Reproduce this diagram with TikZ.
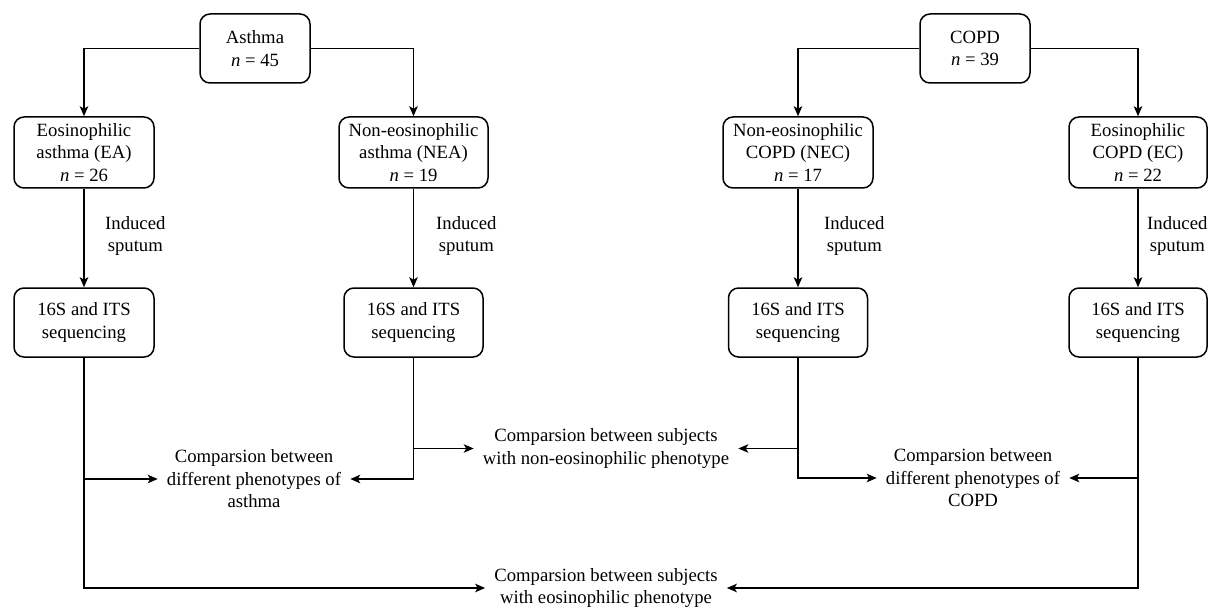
\documentclass[tikz,border=0pt]{standalone}
\usepackage{fontspec}
\setmainfont{Liberation Serif}
\usetikzlibrary{arrows.meta}
\begin{document}
\begin{tikzpicture}[x=1pt,y=-1pt,
  every node/.style={font=\rmfamily\fontsize{18.7}{22.5}\selectfont},
  box/.style={draw, rounded corners=10pt, line width=1.5pt, align=center, inner sep=0pt},
  topbox/.style={box, minimum width=110pt, minimum height=69pt},
  grpbox/.style={box, minimum height=71pt},
  seqbox/.style={box, minimum width=139pt, minimum height=69pt},
  lbl/.style={align=center, inner sep=0pt, anchor=west},
  cmp/.style={align=center, inner xsep=9pt, inner ysep=0pt},
  arr/.style={-{Stealth[length=10pt,width=8.5pt,inset=2.5pt]}, line width=1.5pt},
  ln/.style={line width=1.5pt}]
\useasboundingbox (0,0) rectangle (1208,607);

% top
\node[topbox] (asthma) at (255,48.5) {Asthma\\\textit{n} = 45};
\node[topbox] (copd) at (975,48.5) {COPD\\\textit{n} = 39};

% groups
\node[grpbox, minimum width=140pt] (ea) at (84,152.5) {Eosinophilic\\asthma (EA)\\\textit{n} = 26};
\node[grpbox, minimum width=149pt] (nea) at (413.5,152.5) {Non-eosinophilic\\asthma (NEA)\\\textit{n} = 19};
\node[grpbox, minimum width=150pt] (nec) at (798,152.5) {Non-eosinophilic\\COPD (NEC)\\\textit{n} = 17};
\node[grpbox, minimum width=138pt] (ec) at (1138,152.5) {Eosinophilic\\COPD (EC)\\\textit{n} = 22};

% sequencing
\node[seqbox, minimum width=140pt] (s1) at (84,322.5) {16S and ITS\\sequencing};
\node[seqbox] (s2) at (413.5,322.5) {16S and ITS\\sequencing};
\node[seqbox] (s3) at (798,322.5) {16S and ITS\\sequencing};
\node[seqbox, minimum width=138pt] (s4) at (1138,322.5) {16S and ITS\\sequencing};

% induced sputum labels
\node[lbl] (i1) at (105,236) {Induced\\sputum};
\node[lbl] (i2) at (436,236) {Induced\\sputum};
\node[lbl] (i3) at (824,236) {Induced\\sputum};
\node[lbl] (i4) at (1147,236) {Induced\\sputum};

% comparison texts
\node[cmp] (ca) at (254,479) {Comparsion between\\different phenotypes of\\asthma};
\node[cmp] (cn) at (606,448.5) {Comparsion between subjects\\with non-eosinophilic phenotype};
\node[cmp] (cc) at (973,478) {Comparsion between\\different phenotypes of\\COPD};
\node[cmp] (ce) at (606,588) {Comparsion between subjects\\with eosinophilic phenotype};

% connectors
\draw[arr] (asthma.west) -| (ea.north);
\draw[arr] (asthma.east) -| (nea.north);
\draw[arr] (copd.west) -| (nec.north);
\draw[arr] (copd.east) -| (ec.north);

\draw[arr] (ea.south) -- (s1.north);
\draw[arr] (nea.south) -- (s2.north);
\draw[arr] (nec.south) -- (s3.north);
\draw[arr] (ec.south) -- (s4.north);

\draw[arr] (s1.south) |- (ca.west);
\draw[arr] (s1.south) |- (ce.west);
\draw[arr] (s2.south) |- (ca.east);
\draw[arr] (s2.south) |- (cn.west);
\draw[arr] (s3.south) |- (cn.east);
\draw[arr] (s3.south) |- (cc.west);
\draw[arr] (s4.south) |- (cc.east);
\draw[arr] (s4.south) |- (ce.east);
\end{tikzpicture}
\end{document}
